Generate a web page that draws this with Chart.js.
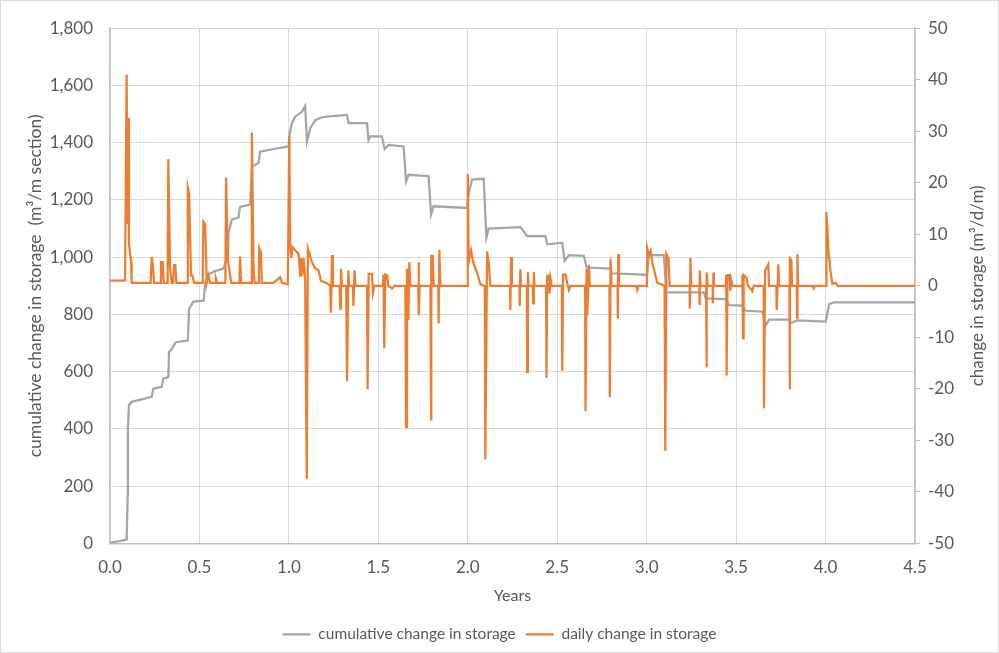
<!DOCTYPE html>
<html lang="en">
<head>
<meta charset="UTF-8">
<title>Change in storage</title>
<script src="https://cdn.jsdelivr.net/npm/chart.js"></script>
<style>
  html, body { margin: 0; padding: 0; background: #fff; }
  #wrap { position: absolute; left: 0; top: 0; width: 999px; height: 653px;
    box-sizing: border-box; border: 1px solid #d9d9d9; }
  canvas { display: block; }
</style>
</head>
<body>
<div id="wrap"><canvas id="chart" width="997" height="651"></canvas></div>
<script>
// cumulative change in storage (m3/m section), left axis
const cumYears = [0, 0.093, 0.099, 0.100, 0.106, 0.121, 0.233, 0.242, 0.289, 0.298,
  0.326, 0.330, 0.345, 0.368, 0.435, 0.442, 0.466, 0.524, 0.532, 0.554,
  0.588, 0.634, 0.659, 0.662, 0.681, 0.718, 0.727, 0.783, 0.793, 0.830,
  0.839, 0.914, 0.998, 1.003, 1.017, 1.035, 1.073, 1.091, 1.101, 1.119,
  1.147, 1.185, 1.241, 1.325, 1.334, 1.437, 1.445, 1.455, 1.520, 1.535,
  1.557, 1.641, 1.655, 1.669, 1.781, 1.795, 1.809, 1.996, 2.005, 2.024,
  2.089, 2.104, 2.117, 2.294, 2.332, 2.434, 2.444, 2.528, 2.541, 2.565,
  2.649, 2.664, 2.798, 2.804, 2.947, 3.003, 3.012, 3.096, 3.110, 3.320,
  3.330, 3.442, 3.460, 3.535, 3.553, 3.647, 3.665, 3.684, 3.798, 3.805,
  3.843, 4.001, 4.020, 4.048, 4.5];
const cumStorage = [2, 14, 171, 402, 483, 495, 512, 541, 547, 576,
  581, 668, 680, 703, 709, 819, 845, 848, 912, 941,
  952, 960, 1004, 1085, 1132, 1138, 1176, 1184, 1317, 1329,
  1369, 1378, 1387, 1427, 1468, 1491, 1508, 1528, 1404, 1450,
  1479, 1489, 1493, 1497, 1468, 1468, 1410, 1422, 1422, 1378,
  1392, 1387, 1265, 1288, 1283, 1149, 1178, 1172, 1224, 1271,
  1274, 1068, 1100, 1105, 1074, 1074, 1045, 1051, 987, 1007,
  1005, 964, 960, 944, 940, 938, 1007, 1007, 877, 877,
  856, 854, 833, 831, 813, 810, 761, 782, 782, 770,
  779, 775, 836, 842, 842];

// daily change in storage (m3/d/m), right axis
const dailyYears = [0, 0.084, 0.093, 0.097, 0.101, 0.106, 0.118, 0.121,
  0.227, 0.233, 0.240, 0.246, 0.280, 0.285, 0.295, 0.300,
  0.322, 0.326, 0.336, 0.345, 0.353, 0.358, 0.365, 0.371,
  0.431, 0.435, 0.442, 0.453, 0.461, 0.470, 0.518, 0.522,
  0.532, 0.541, 0.550, 0.560, 0.588, 0.592, 0.599, 0.645,
  0.649, 0.659, 0.668, 0.677, 0.724, 0.727, 0.733, 0.789,
  0.793, 0.802, 0.808, 0.832, 0.834, 0.843, 0.849, 0.914,
  0.951, 0.961, 0.994, 1.002, 1.007, 1.013, 1.020, 1.054,
  1.063, 1.067, 1.073, 1.082, 1.091, 1.100, 1.106, 1.129,
  1.147, 1.166, 1.179, 1.213, 1.231, 1.235, 1.241, 1.246,
  1.283, 1.287, 1.291, 1.297, 1.320, 1.325, 1.332, 1.337,
  1.358, 1.361, 1.367, 1.372, 1.437, 1.440, 1.446, 1.464,
  1.470, 1.477, 1.526, 1.529, 1.533, 1.539, 1.550, 1.556,
  1.578, 1.589, 1.651, 1.655, 1.660, 1.668, 1.673, 1.679,
  1.723, 1.725, 1.727, 1.731, 1.791, 1.795, 1.796, 1.804,
  1.809, 1.835, 1.837, 1.841, 1.847, 1.996, 2.000, 2.005,
  2.018, 2.030, 2.052, 2.071, 2.095, 2.098, 2.108, 2.117,
  2.126, 2.236, 2.238, 2.242, 2.247, 2.289, 2.290, 2.294,
  2.298, 2.330, 2.332, 2.336, 2.339, 2.363, 2.365, 2.369,
  2.373, 2.438, 2.440, 2.444, 2.453, 2.457, 2.462, 2.470,
  2.526, 2.528, 2.533, 2.546, 2.556, 2.565, 2.574, 2.656,
  2.658, 2.664, 2.668, 2.677, 2.682, 2.792, 2.794, 2.798,
  2.804, 2.837, 2.839, 2.841, 2.845, 2.942, 2.947, 2.954,
  3.001, 3.003, 3.012, 3.022, 3.031, 3.059, 3.087, 3.100,
  3.104, 3.110, 3.122, 3.128, 3.240, 3.241, 3.245, 3.249,
  3.294, 3.296, 3.297, 3.302, 3.332, 3.334, 3.337, 3.341,
  3.369, 3.370, 3.373, 3.376, 3.443, 3.445, 3.447, 3.452,
  3.464, 3.468, 3.472, 3.477, 3.533, 3.535, 3.539, 3.542,
  3.559, 3.566, 3.591, 3.598, 3.654, 3.656, 3.662, 3.680,
  3.684, 3.725, 3.727, 3.736, 3.740, 3.798, 3.800, 3.801,
  3.809, 3.813, 3.839, 3.841, 3.843, 3.846, 3.928, 3.934,
  3.940, 4.003, 4.005, 4.016, 4.027, 4.038, 4.057, 4.068,
  4.5];
const dailyStorage = [1.0, 1.0, 41, 12, 32.6, 8.2, 4.6, 0.6,
  0.6, 5.6, 4, 0.6, 0.6, 4.6, 4.6, 0.6,
  0.6, 24.6, 3.3, 0.6, 0.6, 4, 4, 0.6,
  0.6, 19.1, 18, 2, 2, 0.6, 0.6, 12.5,
  12, 0.6, 2, 0.6, 0.6, 1.5, 0.6, 0.6,
  21, 5, 3, 0.6, 0.6, 5.7, 0.6, 0.6,
  29.7, 4, 0.6, 0.6, 7.3, 6.5, 0.6, 0.6,
  1.7, 0.6, 0.3, 29.1, 8.2, 5.4, 7.5, 6.2,
  2, 5.4, 2, 5.4, 1, -37.5, 7.2, 4.6,
  3.4, 3, 1, 0.5, 0, -5.2, 6, 0,
  0, -4.4, 3.3, 0, 0, -18.5, 3, 0,
  0, -3.9, 3, 0, 0, -20.1, 2.3, 2.3,
  -1.3, 0, 0, 2.2, -12.1, 2.2, 2, 0,
  -0.5, 0, 0, -27.4, 3.3, -6.6, 4.6, 0,
  0, 4.6, -5.7, 0, 0, -25.9, 5.8, 5.8,
  0, 0, -7.3, 7, 0, 0, 21.7, 4.6,
  6.9, 4.6, 2.5, 0.3, 0, -33.7, 6.7, 4.6,
  0, 0, -4.7, 5.6, 0, 0, -3.9, 3.2,
  0, 0, -16.7, 2.7, 0, 0, -3.4, 2.7,
  0, 0, -17.9, 2, 2, -1.5, 1.5, 0,
  0, -16.5, 2.2, 2.2, 0.5, -0.8, 0, 0,
  -24.3, 3.3, -5.8, 4.1, 0, 0, -21.6, 5.3,
  0, 0, -6.4, 6.2, 0, 0, -0.8, 0,
  0, 7.3, 6, 6.8, 4.6, 0.6, 0.2, 0,
  -32, 6.2, 5.3, 0, 0, -4.4, 5.4, 0,
  0, -3.7, 3, 0, 0, -15.8, 2.6, 0,
  0, -3.4, 2.6, 0, 0, 2.1, -17.4, 2.1,
  2.1, -1, 1, 0, 0, 2.1, -10.2, 2.1,
  1.5, 0, -1, 0, 0, -23.8, 3, 4.2,
  0, 0, -4.7, 4.2, 0, 0, -20.1, 5.3,
  5, 0, 0, -6.2, 6.2, 0, 0, -0.5,
  0, 0, 14.3, 6.9, 3, 0.4, 0.6, 0,
  0];

const xTicks = [0, 4.5, 0.5];      // min, max, step (Years)
const leftTicks = [0, 1800, 200];  // m3/m section
const rightTicks = [-50, 50, 10];  // m3/d/m
const seriesNames = ['cumulative change in storage', 'daily change in storage'];
const leftTitle = 'cumulative change in storage  (m³/m section)';
const rightTitle = 'change in storage (m³/d/m)';

const textColor = '#595959';
const gridColor = '#d9d9d9';
const axisColor = '#bfbfbf';
const family = 'Lato, "Open Sans", sans-serif';

Chart.defaults.font.family = family;
Chart.defaults.font.size = 16;
Chart.defaults.color = textColor;

// secondary axis title, drawn bottom-to-top like the primary one
const rightTitlePlugin = {
  id: 'rightTitle',
  afterDraw(chart) {
    const s = chart.scales.y1, ctx = chart.ctx;
    ctx.save();
    ctx.translate(s.right - 20, (s.top + s.bottom) / 2);
    ctx.rotate(-Math.PI / 2);
    ctx.font = '17px ' + family;
    ctx.fillStyle = textColor;
    ctx.textAlign = 'center';
    ctx.textBaseline = 'middle';
    ctx.fillText(rightTitle, 0, 0);
    ctx.restore();
  }
};

new Chart(document.getElementById('chart'), {
  type: 'line',
  data: {
    datasets: [
      {
        label: seriesNames[0],
        data: cumYears.map((t, i) => ({ x: t, y: cumStorage[i] })),
        borderColor: '#a5a5a5', backgroundColor: '#a5a5a5',
        borderWidth: 2.25, pointRadius: 0, yAxisID: 'y', order: 1
      },
      {
        label: seriesNames[1],
        data: dailyYears.map((t, i) => ({ x: t, y: dailyStorage[i] })),
        borderColor: '#ed7d31', backgroundColor: '#ed7d31',
        borderWidth: 2.25, pointRadius: 0, yAxisID: 'y1', order: 0
      }
    ]
  },
  options: {
    responsive: false,
    animation: false,
    devicePixelRatio: 1,
    layout: { padding: { top: 23, bottom: 0, left: 0, right: 0 } },
    plugins: {
      tooltip: { enabled: false },
      legend: {
        position: 'bottom',
        labels: {
          usePointStyle: true, pointStyle: 'line', pointStyleWidth: 28,
          boxHeight: 16, padding: 10, color: textColor, font: { size: 15.5 },
          sort: (a, b) => a.datasetIndex - b.datasetIndex
        }
      }
    },
    scales: {
      x: {
        type: 'linear',
        min: xTicks[0], max: xTicks[1],
        ticks: { stepSize: xTicks[2], padding: 14, font: { size: 17 }, callback: v => v.toFixed(1) },
        grid: { color: gridColor, drawTicks: false },
        border: { color: axisColor, width: 1.5 },
        title: { display: true, text: 'Years', padding: { top: 4, bottom: 11 } },
        afterFit: s => { s.height = 73; }
      },
      y: {
        position: 'left',
        min: leftTicks[0], max: leftTicks[1],
        ticks: { stepSize: leftTicks[2], padding: 17, font: { size: 17 } },
        grid: { color: gridColor, drawTicks: false },
        border: { color: axisColor, width: 1.5 },
        title: { display: true, text: leftTitle, font: { size: 17.5 }, padding: { top: 24, bottom: 0 } },
        afterFit: s => { s.width = 109; }
      },
      y1: {
        position: 'right',
        min: rightTicks[0], max: rightTicks[1],
        ticks: { stepSize: rightTicks[2], padding: 8, font: { size: 17 } },
        grid: { drawOnChartArea: false, drawTicks: true, tickLength: 5, color: axisColor },
        border: { color: axisColor, width: 1.5 },
        afterFit: s => { s.width = 83; }
      }
    }
  },
  plugins: [rightTitlePlugin]
});
</script>
</body>
</html>
